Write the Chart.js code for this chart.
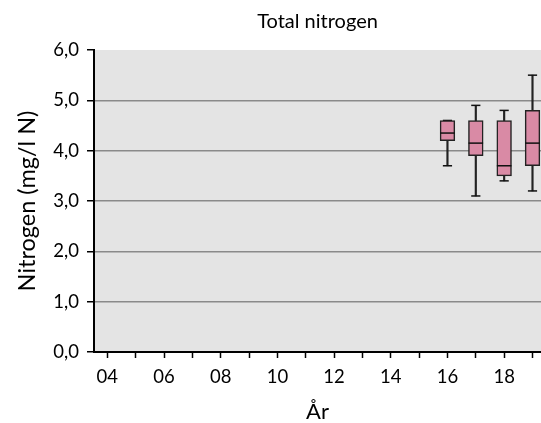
<!DOCTYPE html>
<html>
<head>
<meta charset="utf-8">
<script src="https://cdn.jsdelivr.net/npm/chart.js@4"></script>
<style>
  body { margin: 0; background: #fff; }
</style>
</head>
<body>
<canvas id="boxChart" width="541" height="423"></canvas>
<script>
// Years on the x axis and their labels (only every second year is labelled)
const years = [4, 5, 6, 7, 8, 9, 10, 11, 12, 13, 14, 15, 16, 17, 18, 19];
const tickLabels = ['04', '', '06', '', '08', '', '10', '', '12', '', '14', '', '16', '', '18', ''];

// Box plot statistics per year (mg/l N)
const boxYears = [16, 17, 18, 19];
const minVals = [3.7, 3.1, 3.4, 3.2];
const q1Vals = [4.2, 3.9, 3.5, 3.7];
const medVals = [4.35, 4.15, 3.7, 4.15];
const q3Vals = [4.6, 4.6, 4.6, 4.8];
const maxVals = [4.6, 4.9, 4.8, 5.5];

const pink = '#d98aa5';
const font = 'Lato, Carlito, Calibri, sans-serif';

// gray plot background
const plotBackground = {
    id: 'plotBackground',
    beforeDraw(chart) {
        const { ctx, chartArea } = chart;
        ctx.save();
        ctx.fillStyle = '#e4e4e4';
        ctx.fillRect(chartArea.left, chartArea.top, chartArea.right - chartArea.left, chartArea.bottom - chartArea.top);
        ctx.restore();
    }
};

// center the title over the plot area instead of the whole canvas
const titleOverPlot = {
    id: 'titleOverPlot',
    afterLayout(chart) {
        if (chart.titleBlock) {
            chart.titleBlock.left = chart.chartArea.left;
            chart.titleBlock.right = chart.chartArea.right;
        }
    }
};

const config = {
    type: 'bar',
    data: {
        datasets: [
            {
                // median line
                type: 'scatter',
                data: boxYears.map((x, i) => ({ x: x, y: medVals[i] })),
                pointStyle: 'line',
                pointRadius: 7.3,
                borderColor: '#111',
                borderWidth: 1.5,
                order: 0
            },
            {
                // interquartile box
                data: boxYears.map((x, i) => ({ x: x, y: [q1Vals[i], q3Vals[i]] })),
                backgroundColor: pink,
                borderColor: '#222',
                borderWidth: 1.5,
                borderSkipped: false,
                barThickness: 14.7,
                grouped: false,
                order: 1
            },
            {
                // whisker caps
                type: 'scatter',
                data: boxYears.map((x, i) => ({ x: x, y: minVals[i] }))
                    .concat(boxYears.map((x, i) => ({ x: x, y: maxVals[i] }))),
                pointStyle: 'line',
                pointRadius: 4.6,
                borderColor: '#111',
                borderWidth: 1.5,
                order: 2
            },
            {
                // whiskers
                data: boxYears.map((x, i) => ({ x: x, y: [minVals[i], maxVals[i]] })),
                backgroundColor: '#222',
                borderWidth: 0,
                barThickness: 1.5,
                grouped: false,
                order: 3
            }
        ]
    },
    options: {
        responsive: false,
        animation: false,
        layout: { padding: 0, autoPadding: false },
        plugins: {
            legend: { display: false },
            tooltip: { enabled: false },
            title: {
                display: true,
                text: 'Total nitrogen',
                color: '#000',
                font: { family: font, size: 20, weight: 'normal' },
                padding: { top: 10, bottom: 16 }
            }
        },
        scales: {
            x: {
                type: 'linear',
                min: 3.53,
                max: 19.3,
                offset: false,
                afterBuildTicks: scale => {
                    scale.ticks = years.map(v => ({ value: v }));
                },
                afterFit: scale => { scale.height = 71; },
                ticks: {
                    autoSkip: false,
                    maxRotation: 0,
                    padding: 8,
                    color: '#000',
                    font: { family: font, size: 18.5 },
                    callback: value => tickLabels[years.indexOf(value)]
                },
                grid: {
                    offset: false,
                    drawOnChartArea: false,
                    tickLength: 6,
                    tickWidth: 1.5,
                    tickColor: '#000'
                },
                border: { color: '#000', width: 2 },
                title: {
                    display: true,
                    text: 'År',
                    color: '#000',
                    font: { family: font, size: 22 },
                    padding: { top: 0, bottom: -2 }
                }
            },
            y: {
                min: 0,
                max: 6,
                afterFit: scale => { scale.width = 94; },
                ticks: {
                    stepSize: 1,
                    padding: 8,
                    color: '#000',
                    font: { family: font, size: 18.5 },
                    callback: value => value.toFixed(1).replace('.', ',')
                },
                grid: {
                    color: ctx => (ctx.tick && (ctx.tick.value === 0 || ctx.tick.value === 6)) ? 'rgba(0,0,0,0)' : '#8a8a8a',
                    lineWidth: 1.5,
                    tickLength: 7,
                    tickWidth: 1.5,
                    tickColor: '#000'
                },
                border: { color: '#000', width: 2 },
                title: {
                    display: true,
                    text: 'Nitrogen (mg/l N)',
                    color: '#000',
                    font: { family: font, size: 23.5 },
                    padding: { top: 13.5, bottom: 0 }
                }
            }
        }
    },
    plugins: [plotBackground, titleOverPlot]
};

new Chart(document.getElementById('boxChart'), config);
</script>
</body>
</html>
